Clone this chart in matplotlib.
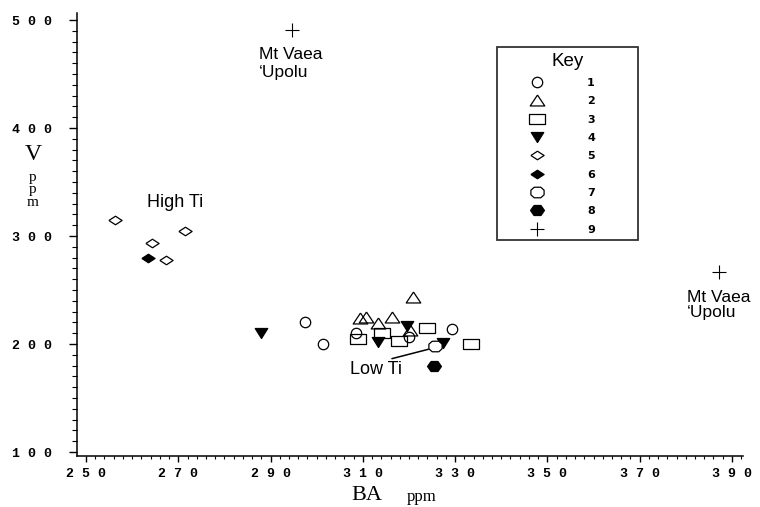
import matplotlib
matplotlib.use("Agg")
import matplotlib.pyplot as plt
from matplotlib.ticker import MultipleLocator, FixedLocator, FuncFormatter

# data (Ba ppm, V ppm)
s1_ba = [297.5, 301.3, 308.5, 320.0, 329.3]
s1_v = [220.5, 200.0, 209.9, 206.5, 214.3]
s2_ba = [309.4, 310.6, 313.3, 316.3, 320.2, 320.9]
s2_v = [223.8, 225.3, 219.7, 224.8, 213.0, 243.8]
s3_ba = [309.0, 314.1, 317.9, 324.0, 333.4]
s3_v = [204.3, 209.9, 203.0, 214.8, 200.3]
s4_ba = [287.9, 313.3, 319.5, 327.4]
s4_v = [210.5, 201.7, 216.3, 200.6]
s5_ba = [256.3, 271.5, 264.2, 267.3]
s5_v = [314.8, 305.0, 293.8, 277.8]
s6_ba = [263.5]
s6_v = [279.3]
s7_ba = [325.6]
s7_v = [198.1]
s8_ba = [325.4]
s8_v = [179.3]
s9_ba = [294.6, 387.2]
s9_v = [490.7, 266.4]

key_labels = ["1", "2", "3", "4", "5", "6", "7", "8", "9"]
ba_ticks = [250, 270, 290, 310, 330, 350, 370, 390]
v_ticks = [100, 200, 300, 400, 500]

# marker outlines (flattened shapes like the scan)
tri_up = [(0, 0.75), (-1, -0.75), (1, -0.75), (0, 0.75)]
tri_dn = [(0, -0.8), (-1, 0.8), (1, 0.8), (0, -0.8)]
rect = [(-1, -0.68), (1, -0.68), (1, 0.68), (-1, 0.68), (-1, -0.68)]
diam = [(-1, 0), (0, 0.65), (1, 0), (0, -0.65), (-1, 0)]
octo = [(-0.5, 0.8), (0.5, 0.8), (1, 0.35), (1, -0.35), (0.5, -0.8),
        (-0.5, -0.8), (-1, -0.35), (-1, 0.35), (-0.5, 0.8)]
hexa = [(-0.5, 0.72), (0.5, 0.72), (1, 0), (0.5, -0.72), (-0.5, -0.72),
        (-1, 0), (-0.5, 0.72)]

fig = plt.figure(figsize=(7.6, 5.07), dpi=100)
ax = fig.add_axes([77 / 760, 1 - 456 / 507, 666 / 760, 443 / 507])

kw = dict(ls="none", mec="black", mew=0.9)
series = [
    (s1_ba, s1_v, dict(marker="o", ms=7.5, mfc="white")),
    (s2_ba, s2_v, dict(marker=tri_up, ms=10.5, mfc="none")),
    (s3_ba, s3_v, dict(marker=rect, ms=11.5, mfc="none")),
    (s4_ba, s4_v, dict(marker=tri_dn, ms=9, mfc="black")),
    (s5_ba, s5_v, dict(marker=diam, ms=9.5, mfc="white")),
    (s6_ba, s6_v, dict(marker=diam, ms=9.5, mfc="black")),
    (s7_ba, s7_v, dict(marker=octo, ms=9.5, mfc="white")),
    (s8_ba, s8_v, dict(marker=hexa, ms=10, mfc="black")),
    (s9_ba, s9_v, dict(marker="+", ms=10, mew=0.8)),
]
handles = []
for xs, ys, style in series:
    opts = dict(kw)
    opts.update(style)
    (h,) = ax.plot(xs, ys, **opts)
    handles.append(h)

ax.set_xlim(248.05, 392.4)
ax.set_ylim(96.3, 506.5)

for side in ["top", "right"]:
    ax.spines[side].set_visible(False)
for side in ["left", "bottom"]:
    ax.spines[side].set_linewidth(1.1)

ax.xaxis.set_major_locator(FixedLocator(ba_ticks))
ax.xaxis.set_minor_locator(MultipleLocator(2))
ax.yaxis.set_major_locator(FixedLocator(v_ticks))
ax.yaxis.set_minor_locator(MultipleLocator(10))
spaced = FuncFormatter(lambda v, p: " ".join(f"{v:.0f}"))
ax.xaxis.set_major_formatter(spaced)
ax.yaxis.set_major_formatter(spaced)
ax.tick_params(axis="x", which="major", length=4.5, width=1, pad=4)
ax.tick_params(axis="x", which="minor", length=2, width=0.8)
ax.tick_params(axis="y", which="major", length=6, width=1, pad=12)
ax.tick_params(axis="y", which="minor", length=3.5, width=0.8)
for lab in ax.get_xticklabels() + ax.get_yticklabels():
    lab.set_family("Liberation Mono")
    lab.set_weight("bold")
    lab.set_fontsize(9.5)

sans = "Liberation Sans"
ax.text(287.5, 459.3, "Mt Vaea\n\u2018Upolu", family=sans, fontsize=12.5,
        va="center", ha="left", linespacing=1.25)
ax.text(380.3, 236.1, "Mt Vaea\n\u2018Upolu", family=sans, fontsize=12.5,
        va="center", ha="left", linespacing=1.0)
ax.text(263.2, 330.6, "High Ti", family=sans, fontsize=13,
        va="center", ha="left")
ax.annotate("Low Ti", xy=(324.2, 195.1), xytext=(307.2, 176.0),
            family=sans, fontsize=13, va="center", ha="left",
            arrowprops=dict(arrowstyle="-", lw=1.1, color="black",
                            relpos=(0.6, 1.0), shrinkA=0, shrinkB=0))

# axis titles
serif = "Liberation Serif"
fig.text(33 / 760, 1 - 155 / 507, "V", family=serif, fontsize=17,
         ha="center", va="center")
fig.text(33 / 760, 1 - 190 / 507, "p\np\nm", family=serif, fontsize=11,
         ha="center", va="center", linespacing=0.95)
fig.text(367 / 760, 1 - 505 / 507, "BA", family=serif, fontsize=16,
         ha="center", va="bottom")
fig.text(407 / 760, 1 - 505 / 507, "ppm", family=serif, fontsize=12,
         ha="left", va="bottom")

leg = ax.legend(handles, key_labels, title="Key", loc="upper left",
                bbox_to_anchor=(497 / 760, 1 - 240 / 507, 141 / 760, 193 / 507),
                bbox_transform=fig.transFigure, mode="expand",
                numpoints=1, frameon=True, fancybox=False,
                handlelength=6.2, handletextpad=1.4, borderpad=0.5,
                labelspacing=0.75, borderaxespad=0,
                prop=dict(family="DejaVu Sans", weight="bold", size=8),
                title_fontproperties=dict(family=sans, size=13.5))
leg.get_frame().set_edgecolor("black")
leg.get_frame().set_linewidth(1.3)

fig.savefig("out.png", dpi=100)
